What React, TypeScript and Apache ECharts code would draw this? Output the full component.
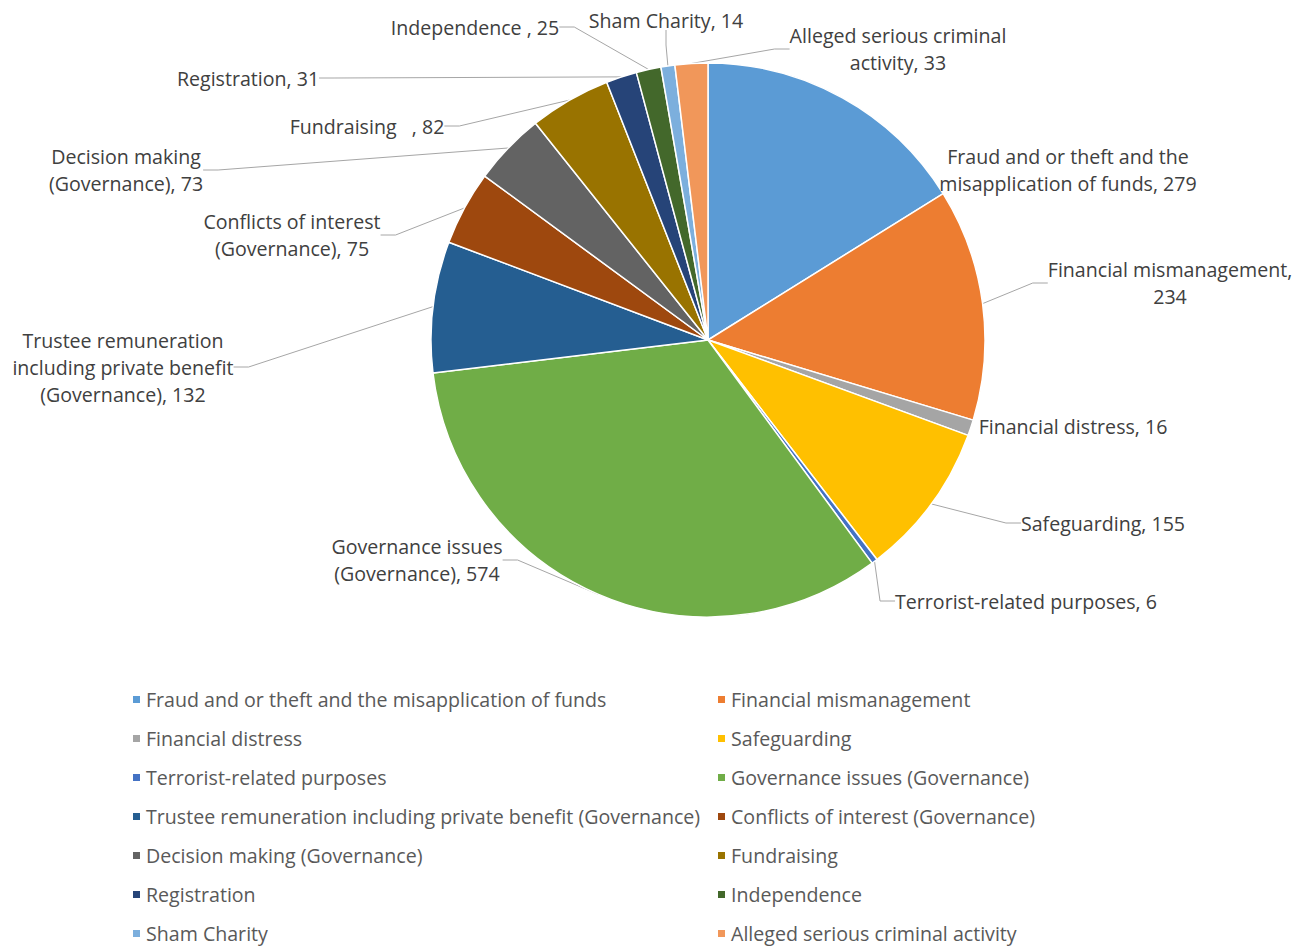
import React, { useEffect, useRef } from "react";
import * as echarts from "echarts";

const categories = [
  "Fraud and or theft and the misapplication of funds",
  "Financial mismanagement",
  "Financial distress",
  "Safeguarding",
  "Terrorist-related purposes",
  "Governance issues (Governance)",
  "Trustee remuneration including private benefit (Governance)",
  "Conflicts of interest (Governance)",
  "Decision making (Governance)",
  "Fundraising",
  "Registration",
  "Independence",
  "Sham Charity",
  "Alleged serious criminal activity",
];

const values = [279, 234, 16, 155, 6, 574, 132, 75, 73, 82, 31, 25, 14, 33];

const labelTemplates = [
  "Fraud and or theft and the\nmisapplication of funds, #",
  "Financial mismanagement,\n#",
  "Financial distress, #",
  "Safeguarding, #",
  "Terrorist-related purposes, #",
  "Governance issues\n(Governance), #",
  "Trustee remuneration\nincluding private benefit\n(Governance), #",
  "Conflicts of interest\n(Governance), #",
  "Decision making\n(Governance), #",
  "Fundraising   , #",
  "Registration, #",
  "Independence , #",
  "Sham Charity, #",
  "Alleged serious criminal\nactivity, #",
];

const colors = [
  "#5B9BD5", "#ED7D31", "#A5A5A5", "#FFC000", "#4472C4", "#70AD47", "#255E91",
  "#9E480E", "#636363", "#997300", "#264478", "#43682B", "#7CAFDD", "#F1975A",
];

// label centre positions (layout only), in chart pixels
const labelPositions: [number, number][] = [
  [1060, 162], [1162, 275], [1065, 418], [1095, 515], [1018, 593],
  [409, 552], [115, 359], [284, 227], [118, 162], [359, 118],
  [240, 70], [467, 19], [658, 12], [890, 41],
];

// slices whose labels sit right against the pie and show no leader line
const noLeaderLine = [0, 2];

const FONT = "Open Sans";
const FS = 19.6;

export default function App() {
  const ref = useRef<HTMLDivElement>(null);
  useEffect(() => {
    const chart = echarts.init(ref.current!, null, { renderer: "svg" });
    const data = categories.map((name, i) => ({
      name,
      value: values[i],
      itemStyle: { color: colors[i] },
      labelLine: noLeaderLine.includes(i) ? { show: false } : undefined,
    }));
    const legendCommon = {
      orient: "vertical",
      icon: "rect",
      itemWidth: 9,
      itemHeight: 9,
      itemGap: 18,
      padding: 0,
      textStyle: { fontFamily: FONT, fontSize: FS, color: "#595959", lineHeight: 21 },
      top: 681,
    };
    chart.setOption({
      animation: false,
      textStyle: { fontFamily: FONT },
      legend: [
        { ...legendCommon, left: 123, data: categories.filter((_, i) => i % 2 === 0) },
        { ...legendCommon, left: 708, data: categories.filter((_, i) => i % 2 === 1) },
      ],
      series: [
        {
          type: "pie",
          center: [700, 332],
          radius: 277,
          startAngle: 90,
          clockwise: true,
          avoidLabelOverlap: false,
          data,
          itemStyle: { borderColor: "#ffffff", borderWidth: 1.5 },
          label: {
            show: true,
            position: "outside",
            formatter: (p: any) =>
              labelTemplates[p.dataIndex]
                .replace("#", String(p.value))
                .split("\n")
                .map((l) => "{t|" + l + "}")
                .join("\n"),
            rich: {
              t: { fontFamily: FONT, fontSize: FS, color: "#404040", lineHeight: 27, align: "center" },
            },
          },
          labelLine: {
            show: true,
            length: 15,
            length2: 15,
            lineStyle: { color: "#A6A6A6", width: 1 },
          },
          labelLayout: (params: any) => {
            const pos = labelPositions[params.dataIndex];
            return { x: pos[0], y: pos[1], align: "center", verticalAlign: "middle" };
          },
        },
      ],
    });
    return () => chart.dispose();
  }, []);
  return <div ref={ref} style={{ width: 1295, height: 941 }} />;
}
